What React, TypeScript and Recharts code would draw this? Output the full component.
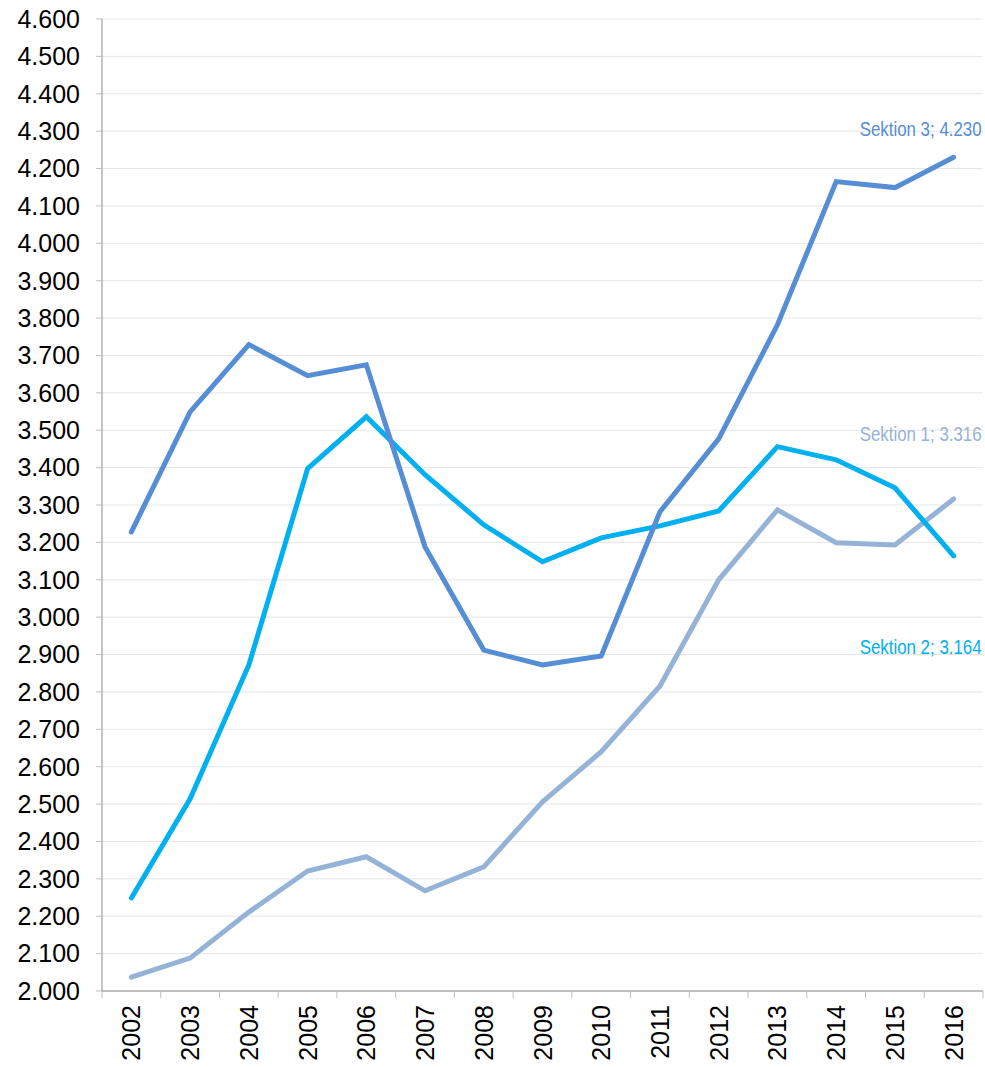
import React from 'react';
import { LineChart, Line, XAxis, YAxis, CartesianGrid, LabelList } from 'recharts';

const years = ['2002','2003','2004','2005','2006','2007','2008','2009','2010','2011','2012','2013','2014','2015','2016'];
const sektion1 = [2037, 2088, 2211, 2321, 2359, 2268, 2332, 2506, 2640, 2816, 3100, 3287, 3199, 3193, 3316];
const sektion2 = [2249, 2514, 2872, 3397, 3536, 3381, 3247, 3148, 3212, 3244, 3284, 3456, 3421, 3346, 3164];
const sektion3 = [3228, 3549, 3729, 3646, 3675, 3188, 2912, 2872, 2896, 3282, 3477, 3782, 4165, 4149, 4230];
const yTicks = [2000,2100,2200,2300,2400,2500,2600,2700,2800,2900,3000,3100,3200,3300,3400,3500,3600,3700,3800,3900,4000,4100,4200,4300,4400,4500,4600];

const data = years.map((y, i) => ({ year: y, s1: sektion1[i], s2: sektion2[i], s3: sektion3[i] }));

const fmt = (v: number) => v.toLocaleString('de-DE');

const C1 = '#95B3D7';
const C2 = '#00B0F0';
const C3 = '#558ED5';

const W = 985, H = 1067;
const ML = 0, MR = 2, MT = 19, YW = 102, XH = 76;
const plotW = W - ML - MR - YW;
const band = plotW / years.length;

const XTick = (props: any) => {
  const { x, y, payload, index } = props;
  const half = band / 2;
  return (
    <g>
      <line x1={x - half} y1={y} x2={x - half} y2={y + 7} stroke="#bfbfbf" strokeWidth={1} />
      {index === years.length - 1 && (
        <line x1={x + half} y1={y} x2={x + half} y2={y + 7} stroke="#bfbfbf" strokeWidth={1} />
      )}
      <text
        x={x}
        y={y + 14}
        transform={`rotate(-90 ${x} ${y + 14})`}
        textAnchor="end"
        dominantBaseline="central"
        fontFamily="'Liberation Sans', Arial, sans-serif"
        fontSize={25}
        fill="#000"
      >
        {payload.value}
      </text>
    </g>
  );
};

const makeLabel = (name: string, color: string, dy: number, width: number) => (props: any) => {
  const { x, y, index, value } = props;
  if (index !== years.length - 1) return null;
  return (
    <text
      x={x + 28}
      y={y + dy}
      textAnchor="end"
      fontFamily="'Liberation Sans Narrow', 'Arial Narrow', 'Liberation Sans', sans-serif"
      fontSize={20}
      fill={color}
      textLength={width}
      lengthAdjust="spacingAndGlyphs"
    >
      {`${name}; ${fmt(value)}`}
    </text>
  );
};

export default function App() {
  return (
    <div style={{ position: 'absolute', left: 0, top: 0, width: W, height: H, background: '#fff' }}>
      <LineChart width={W} height={H} data={data} margin={{ top: MT, right: MR, left: ML, bottom: 0 }}>
        <CartesianGrid vertical={false} stroke="#e6e6e6" strokeWidth={1} />
        <XAxis
          dataKey="year"
          height={XH}
          interval={0}
          padding={{ left: band / 2, right: band / 2 }}
          tickLine={false}
          tickSize={0}
          tickMargin={0}
          axisLine={{ stroke: '#8c8c8c' }}
          tick={<XTick />}
        />
        <YAxis
          width={YW}
          domain={[2000, 4600]}
          ticks={yTicks}
          interval={0}
          tickFormatter={fmt}
          tickSize={6}
          tickMargin={16}
          axisLine={{ stroke: '#8c8c8c' }}
          tickLine={{ stroke: '#bfbfbf' }}
          tick={{ fontFamily: "'Liberation Sans', Arial, sans-serif", fontSize: 25, fill: '#000' }}
        />
        <Line dataKey="s1" stroke={C1} strokeWidth={5} dot={false} isAnimationActive={false} strokeLinecap="round">
          <LabelList dataKey="s1" content={makeLabel('Sektion 1', C1, -58, 122)} />
        </Line>
        <Line dataKey="s2" stroke={C2} strokeWidth={5} dot={false} isAnimationActive={false} strokeLinecap="round">
          <LabelList dataKey="s2" content={makeLabel('Sektion 2', C2, 98, 122)} />
        </Line>
        <Line dataKey="s3" stroke={C3} strokeWidth={5} dot={false} isAnimationActive={false} strokeLinecap="round">
          <LabelList dataKey="s3" content={makeLabel('Sektion 3', C3, -21, 122)} />
        </Line>
      </LineChart>
    </div>
  );
}
